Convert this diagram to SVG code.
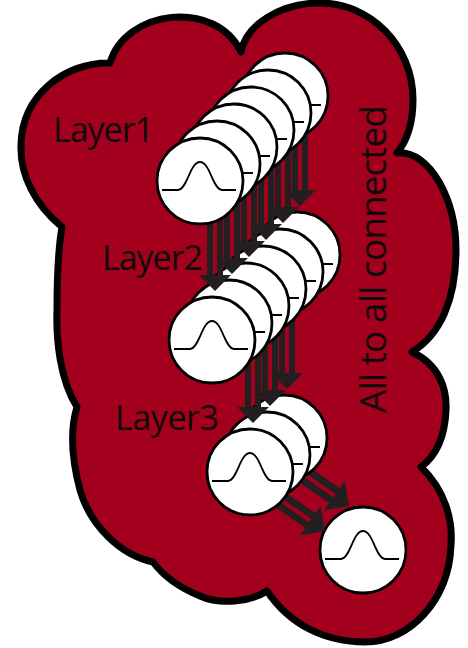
<svg xmlns="http://www.w3.org/2000/svg" xmlns:xlink="http://www.w3.org/1999/xlink" width="468" height="648" viewBox="0 0 468 648">
<style>
.lbl{font-family:"Open Sans","Noto Sans","Liberation Sans",sans-serif;fill:#120a0a;}
.arr{fill:#231f20;}
</style>
<defs>
<g id="neuron">
<circle r="43" fill="#fff" stroke="#000" stroke-width="2.8"/>
<path d="M-38,9 H-22 C-13,9 -10,-19 0,-19 C10,-19 13,9 22,9 H36" fill="none" stroke="#000" stroke-width="1.8"/>
</g>
<g id="varrow" class="arr">
<rect x="-8" y="-132" width="6" height="119"/>
<rect x="2" y="-132" width="6" height="119"/>
<polygon points="0,0 -16,-16 16,-16"/>
</g>
<g id="darrow" class="arr">
<rect x="-9" y="-94" width="7" height="80"/>
<rect x="2" y="-94" width="7" height="80"/>
<polygon points="0,0 -18,-18 18,-18"/>
</g>
</defs>
<g id="cloud">
<path d="M110,63 C125,10 215,-2 241,52 C246,25 280,3 320,3 C370,3 413,45 413,100 C413,125 406,142 397,153 C430,150 456,200 456,250 C456,300 440,335 412,352 C440,365 447,390 446,410 C445,435 437,455 421,467 C445,490 453,520 451,545 C449,600 410,642 365,642 C325,642 290,625 267,591 C250,602 220,605 200,596 C180,588 165,578 153,562 C120,555 90,525 80,490 C72,460 70,430 77,407 C60,380 56,340 57,310 C57,280 58,250 62,227 C35,205 20,175 21,145 C22,95 65,62 110,63 Z" fill="#a3001e" stroke="#000" stroke-width="7" stroke-linejoin="round"/>
</g>
<g id="output"><use xlink:href="#neuron" x="363" y="550"/></g>
<g id="connectors-l3-out" class="connectors">
<use xlink:href="#darrow" transform="translate(349,506) rotate(-55)"/>
<use xlink:href="#darrow" transform="translate(325,531) rotate(-55)"/>
</g>
<g id="layer3">
<g id="l3n2"><use xlink:href="#neuron" x="284" y="438"/></g>
<g id="l3n1"><use xlink:href="#neuron" x="267" y="455"/></g>
<g id="l3n0"><use xlink:href="#neuron" x="250" y="472"/></g>
</g>
<g id="connectors-l2-l3" class="connectors">
<use xlink:href="#varrow" transform="translate(287,389)"/>
<use xlink:href="#varrow" transform="translate(270,406)"/>
<use xlink:href="#varrow" transform="translate(253,423)"/>
</g>
<g id="layer2">
<g id="l2n5"><use xlink:href="#neuron" x="297" y="255"/></g>
<g id="l2n4"><use xlink:href="#neuron" x="280" y="272"/></g>
<g id="l2n3"><use xlink:href="#neuron" x="263" y="289"/></g>
<g id="l2n2"><use xlink:href="#neuron" x="246" y="306"/></g>
<g id="l2n1"><use xlink:href="#neuron" x="229" y="323"/></g>
<g id="l2n0"><use xlink:href="#neuron" x="212" y="340"/></g>
</g>
<g id="connectors-l1-l2" class="connectors">
<use xlink:href="#varrow" transform="translate(300,206)"/>
<use xlink:href="#varrow" transform="translate(283,223)"/>
<use xlink:href="#varrow" transform="translate(266,240)"/>
<use xlink:href="#varrow" transform="translate(249,257)"/>
<use xlink:href="#varrow" transform="translate(232,274)"/>
<use xlink:href="#varrow" transform="translate(215,291)"/>
</g>
<g id="layer1">
<g id="l1n5"><use xlink:href="#neuron" x="285" y="96"/></g>
<g id="l1n4"><use xlink:href="#neuron" x="268" y="113"/></g>
<g id="l1n3"><use xlink:href="#neuron" x="251" y="130"/></g>
<g id="l1n2"><use xlink:href="#neuron" x="234" y="147"/></g>
<g id="l1n1"><use xlink:href="#neuron" x="217" y="164"/></g>
<g id="l1n0"><use xlink:href="#neuron" x="200" y="181"/></g>
</g>
<g id="labels">
<text class="lbl" x="53" y="142" font-size="34" textLength="101">Layer1</text>
<text class="lbl" x="102" y="270" font-size="34" textLength="101">Layer2</text>
<text class="lbl" x="115" y="430" font-size="34" textLength="104">Layer3</text>
<text class="lbl" transform="translate(386,413) rotate(-90)" font-size="37" textLength="308">All to all connected</text>
</g>
</svg>
